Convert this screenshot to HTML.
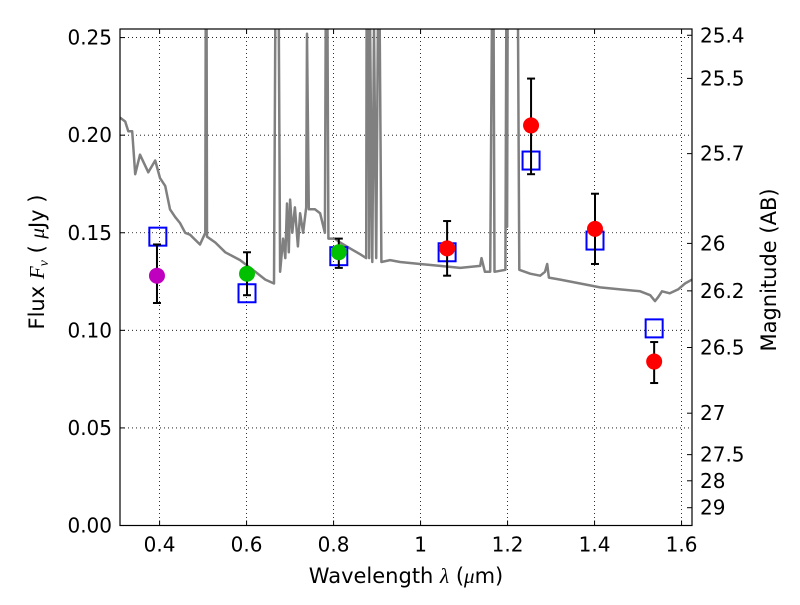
<!DOCTYPE html>
<html><head><meta charset="utf-8"><style>
body{margin:0;background:#fff;}
svg text{font-family:"DejaVu Sans","Liberation Sans",sans-serif;}
</style></head><body>
<svg id="chart" width="800" height="600"></svg>
<script>
const specW=[0.309,0.321,0.328,0.337,0.344,0.355,0.374,0.390,0.401,0.413,0.424,0.436,0.447,0.459,0.470,0.493,0.505,0.506,0.508,0.509,0.528,0.551,0.585,0.620,0.643,0.663,0.666,0.674,0.677,0.684,0.689,0.693,0.697,0.700,0.705,0.711,0.718,0.723,0.730,0.737,0.739,0.743,0.757,0.769,0.780,0.782,0.786,0.788,0.803,0.815,0.838,0.861,0.875,0.876,0.880,0.882,0.884,0.889,0.893,0.898,0.902,0.906,0.910,0.930,0.953,0.999,1.045,1.091,1.137,1.140,1.148,1.160,1.164,1.168,1.170,1.195,1.197,1.198,1.199,1.200,1.224,1.227,1.252,1.275,1.286,1.291,1.295,1.321,1.367,1.413,1.459,1.505,1.528,1.539,1.546,1.555,1.573,1.592,1.608,1.624];
const specF=[0.209,0.207,0.202,0.202,0.180,0.190,0.181,0.187,0.178,0.174,0.162,0.158,0.155,0.150,0.149,0.144,0.150,0.256,0.256,0.148,0.145,0.140,0.136,0.130,0.126,0.124,0.256,0.256,0.130,0.147,0.137,0.165,0.140,0.167,0.150,0.163,0.143,0.160,0.150,0.163,0.252,0.162,0.162,0.160,0.150,0.256,0.256,0.147,0.147,0.145,0.142,0.139,0.137,0.256,0.256,0.137,0.256,0.135,0.256,0.137,0.256,0.256,0.135,0.136,0.135,0.134,0.133,0.132,0.133,0.137,0.130,0.130,0.256,0.256,0.130,0.131,0.256,0.256,0.153,0.256,0.256,0.131,0.129,0.128,0.130,0.134,0.127,0.126,0.124,0.122,0.121,0.120,0.118,0.115,0.117,0.120,0.119,0.121,0.124,0.126];
const obsW=[0.394,0.601,0.812,1.061,1.254,1.401,1.537];
const obsF=[0.128,0.129,0.140,0.142,0.205,0.152,0.084];
const obsLo=[0.114,0.118,0.132,0.128,0.180,0.134,0.073];
const obsHi=[0.144,0.140,0.147,0.156,0.229,0.170,0.094];
const obsColor=["#bf00bf","#00c000","#00c000","#ff0000","#ff0000","#ff0000","#ff0000"];
const modW=[0.396,0.601,0.812,1.061,1.254,1.401,1.537];
const modF=[0.148,0.119,0.138,0.140,0.187,0.146,0.101];
const xTicks=[0.4,0.6,0.8,1.0,1.2,1.4,1.6];
const xTickLabels=["0.4","0.6","0.8","1","1.2","1.4","1.6"];
const yTicks=[0,0.05,0.10,0.15,0.20,0.25];
const yTickLabels=["0.00","0.05","0.10","0.15","0.20","0.25"];
const magTicks=[25.4,25.5,25.7,26,26.2,26.5,27,27.5,28,29];
const magLabels=["25.4","25.5","25.7","26","26.2","26.5","27","27.5","28","29"];

const L=120,R=692,T=29,B=525.5;
const xMin=0.309,xMax=1.624,yMin=0,yMax=0.2544;
const X=v=>L+(v-xMin)/(xMax-xMin)*(R-L);
const Y=v=>B-(v-yMin)/(yMax-yMin)*(B-T);
const svg=document.getElementById('chart');
const NS='http://www.w3.org/2000/svg';
function mk(tag,attrs,parent){const e=document.createElementNS(NS,tag);for(const k in attrs)e.setAttribute(k,attrs[k]);(parent||svg).appendChild(e);return e;}
const defs=mk('defs',{});
const cp=mk('clipPath',{id:'clip'},defs);mk('rect',{x:L,y:T,width:R-L,height:B-T},cp);

// grid + x ticks
xTicks.forEach((v,i)=>{
 const g=mk('line',{x1:X(v),x2:X(v),y1:T,y2:B,stroke:'#000','stroke-dasharray':'1,3','stroke-width':0.8});
 
 
 mk('line',{x1:X(v),x2:X(v),y1:B,y2:B-5,stroke:'#000'});
 mk('line',{x1:X(v),x2:X(v),y1:T,y2:T+5,stroke:'#000'});
 const t=mk('text',{x:X(v),y:B+26,'text-anchor':'middle','font-size':20});
 t.textContent=xTickLabels[i];
 
 
});
yTicks.forEach((v,i)=>{
 if(v>0){const g=mk('line',{x1:L,x2:R,y1:Y(v),y2:Y(v),stroke:'#000','stroke-dasharray':'1,3','stroke-width':0.8});
 
 }
 mk('line',{x1:L,x2:L+5,y1:Y(v),y2:Y(v),stroke:'#000'});
 const t=mk('text',{x:L-8,y:Y(v)+7,'text-anchor':'end','font-size':20});
 t.textContent=yTickLabels[i];
 
 
});
magTicks.forEach((m,i)=>{
 const f=Math.pow(10,(23.9-m)/2.5);
 mk('line',{x1:R,x2:R-5,y1:Y(f),y2:Y(f),stroke:'#000'});
 const t=mk('text',{x:R+8,y:Y(f)+7,'font-size':20});
 t.textContent=magLabels[i];
 
 
});

// spectrum
const pts=specW.map((w,i)=>X(w).toFixed(1)+','+Y(specF[i]).toFixed(1)).join(' ');
const sp=mk('polyline',{points:pts,fill:'none',stroke:'#808080','stroke-width':2.5,'clip-path':'url(#clip)','stroke-linejoin':'round'});



// model squares
modW.forEach((w,i)=>{
 const s=mk('rect',{x:X(w)-8.5,y:Y(modF[i])-9,width:17,height:18,fill:'none',stroke:'#0000ff','stroke-width':2});
 
 
});
// observations
obsW.forEach((w,i)=>{
 const x=X(w);
 const e=mk('g',{});
 
 
 mk('line',{x1:x,x2:x,y1:Y(obsLo[i]),y2:Y(obsHi[i]),stroke:'#000','stroke-width':2},e);
 mk('line',{x1:x-4,x2:x+4,y1:Y(obsLo[i]),y2:Y(obsLo[i]),stroke:'#000','stroke-width':2},e);
 mk('line',{x1:x-4,x2:x+4,y1:Y(obsHi[i]),y2:Y(obsHi[i]),stroke:'#000','stroke-width':2},e);
 const c=mk('circle',{cx:x,cy:Y(obsF[i]),r:8,fill:obsColor[i]});
 
 
});
const fr=mk('rect',{x:L,y:T,width:R-L,height:B-T,fill:'none',stroke:'#000','stroke-width':1.2});



const xt=mk('text',{x:406,y:583,'text-anchor':'middle','font-size':21});
xt.innerHTML='Wavelength  <tspan font-style="italic" font-family="Liberation Serif">λ</tspan> (<tspan font-style="italic" font-family="Liberation Serif">μ</tspan>m)';


const yt=mk('text',{x:0,y:0,'text-anchor':'middle','font-size':21,transform:'translate(44,262) rotate(-90)'});
yt.innerHTML='Flux  <tspan font-style="italic" font-family="Liberation Serif">F<tspan font-size="14" dy="4">ν</tspan></tspan><tspan dy="-4">  ( </tspan><tspan font-style="italic" font-family="Liberation Serif">μ</tspan>Jy )';


const rt=mk('text',{x:0,y:0,'text-anchor':'middle','font-size':21,transform:'translate(776,270) rotate(-90)'});
rt.textContent='Magnitude (AB)';


</script>
</body></html>
